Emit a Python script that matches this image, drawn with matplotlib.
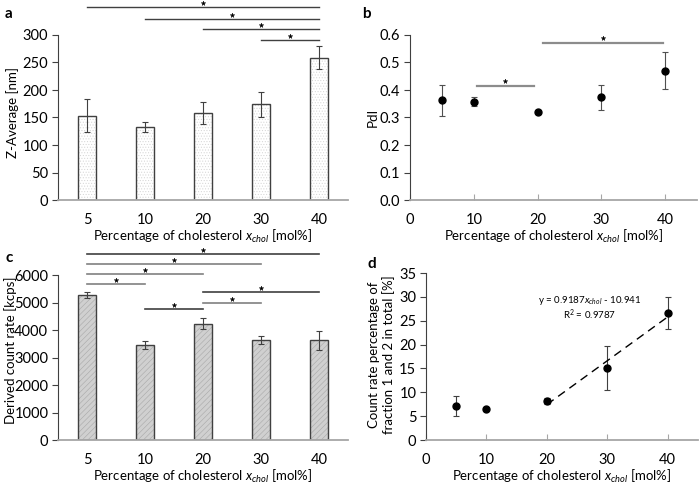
import matplotlib
matplotlib.use("Agg")
import matplotlib.pyplot as plt
import numpy as np

plt.rcParams["font.family"] = ["Lato", "DejaVu Sans"]
plt.rcParams["mathtext.fontset"] = "custom"
plt.rcParams["mathtext.rm"] = "Lato"
plt.rcParams["mathtext.it"] = "Lato:italic"
plt.rcParams["hatch.linewidth"] = 0.4

#%% data
categories = ["5", "10", "20", "30", "40"]
chol = [5, 10, 20, 30, 40]

zavg = [153, 133, 158, 174, 259]
zavg_err = [30, 9, 20, 23, 21]
zavg_sig = [(0, 4, 351), (1, 4, 329), (2, 4, 311), (3, 4, 291)]

pdi = [0.362, 0.358, 0.320, 0.373, 0.470]
pdi_err = [0.056, 0.016, 0.007, 0.044, 0.068]
pdi_sig = [(10.5, 19.4, 0.415), (20.8, 39.6, 0.572)]

count = [5280, 3450, 4220, 3650, 3620]
count_err = [100, 150, 200, 150, 330]
count_sig = [(0, 4, 6764), (0, 3, 6400), (0, 2, 6036), (0, 1, 5673),
             (1, 2, 4764), (2, 3, 4982), (2, 4, 5382)]

frac = [7.2, 6.5, 8.2, 15.1, 26.6]
frac_err = [2.1, 0.0, 0.6, 4.6, 3.3]
fit_slope, fit_icpt, fit_r2 = 0.9187, -10.941, 0.9787
fit_range = [20, 40]

xlab = "Percentage of cholesterol $x_{chol}$ [mol%]"
W, H = 700, 486
LBL = 9.5


def px_axes(fig, x0, x1, y_top, y_bot):
    return fig.add_axes([x0 / W, 1 - y_bot / H, (x1 - x0) / W, (y_bot - y_top) / H])


def style(ax):
    for s in ["top", "right"]:
        ax.spines[s].set_visible(False)
    ax.spines["left"].set_color("#404040")
    ax.spines["left"].set_linewidth(0.8)
    ax.spines["bottom"].set_color("#a6a6a6")
    ax.spines["bottom"].set_linewidth(1.3)
    ax.tick_params(axis="y", direction="out", length=4, width=0.8, color="#404040",
                   labelsize=10.5, pad=3)
    ax.tick_params(axis="x", direction="in", length=4, width=0.8, color="#a6a6a6",
                   labelsize=10.5, pad=9)


def barpanel(ax, vals, errs, face, hatch, hcol):
    x = np.arange(len(vals))
    ax.bar(x, vals, width=0.32, color=face, hatch=hatch, edgecolor=hcol, linewidth=0)
    ax.bar(x, vals, width=0.32, fill=False, edgecolor="#404040", linewidth=1.0)
    ax.errorbar(x, vals, yerr=errs, fmt="none", ecolor="#404040", elinewidth=0.8,
                capsize=2, capthick=0.8)
    ax.set_xticks(x, categories)
    ax.set_xlim(-0.5, len(vals) - 0.5)
    ax.tick_params(axis="x", length=0)


def sig(ax, x0, x1, y, dy, color="#404040", lw=1.0):
    ax.plot([x0, x1], [y, y], color=color, lw=lw, clip_on=False)
    ax.plot([(x0 + x1) / 2], [y + dy], marker="*", ms=3.5, color="black",
            mew=0.3, clip_on=False)


def labels(ax, ylab, ylx, yly=0.5, xly=-0.17):
    ax.set_ylabel(ylab, fontsize=LBL)
    ax.yaxis.set_label_coords(ylx, yly)
    ax.set_xlabel(xlab, fontsize=LBL)
    ax.xaxis.set_label_coords(0.5, xly)


fig = plt.figure(figsize=(7, 4.86), dpi=100)

#%% a
axA = px_axes(fig, 58, 348, 35, 200)
style(axA)
barpanel(axA, zavg, zavg_err, "white", "......", "#d4d4d4")
axA.set_ylim(0, 300)
axA.set_yticks(range(0, 301, 50))
for x0, x1, y in zavg_sig:
    sig(axA, x0, x1, y, 8)
labels(axA, "Z-Average [nm]", -0.134, 0.53)

#%% b
axB = px_axes(fig, 410, 697, 35, 200)
style(axB)
axB.errorbar(chol, pdi, yerr=pdi_err, fmt="o", color="black", ms=5,
             ecolor="#505050", elinewidth=0.8, capsize=2, capthick=0.8)
axB.set_xlim(0, 45)
axB.set_ylim(0, 0.6)
axB.set_xticks([0, 10, 20, 30, 40])
axB.set_yticks(np.arange(0, 0.61, 0.1))
axB.yaxis.set_major_formatter(matplotlib.ticker.FormatStrFormatter("%.1f"))
for x0, x1, y in pdi_sig:
    sig(axB, x0, x1, y, 0.016, color="#8c8c8c", lw=1.6)
labels(axB, "PdI", -0.11)

#%% c
axC = px_axes(fig, 58, 348, 275, 440)
style(axC)
barpanel(axC, count, count_err, "#d0d0d0", "//////", "#a8a8a8")
axC.set_ylim(0, 6000)
axC.set_yticks(range(0, 6001, 1000))
for i, (x0, x1, y) in enumerate(count_sig):
    col = "#404040" if i in (0, 4, 6) else "#808080"
    sig(axC, x0, x1, y, 160, color=col, lw=1.2)
labels(axC, "Derived count rate [kcps]", -0.14, 0.545)

#%% d
axD = px_axes(fig, 426, 698, 273, 440)
style(axD)
axD.errorbar(chol, frac, yerr=frac_err, fmt="o", color="black", ms=5,
             ecolor="#404040", elinewidth=0.8, capsize=2, capthick=0.8)
fx = np.array(fit_range)
axD.plot(fx, fit_slope * fx + fit_icpt, color="black", ls=(0, (6, 4)), lw=1)
axD.text(27.1, 29.3, f"y = {fit_slope}$x_{{chol}}$ - {abs(fit_icpt)}", ha="center",
         va="center", fontsize=7)
axD.text(27.1, 26.3, f"R$^2$ = {fit_r2}", ha="center", va="center", fontsize=7)
axD.set_xlim(0, 45)
axD.set_ylim(0, 35)
axD.set_xticks([0, 10, 20, 30, 40])
axD.set_yticks(range(0, 36, 5))
labels(axD, "Count rate percentage of\nfraction 1 and 2 in total [%]", -0.115, 0.51)

for lab, x, y in [("a", 5, 14), ("b", 362, 14), ("c", 5, 258), ("d", 368, 264)]:
    fig.text(x / W, 1 - y / H, lab, fontsize=11, fontweight="bold", va="center")

fig.savefig("out.png", dpi=100)
